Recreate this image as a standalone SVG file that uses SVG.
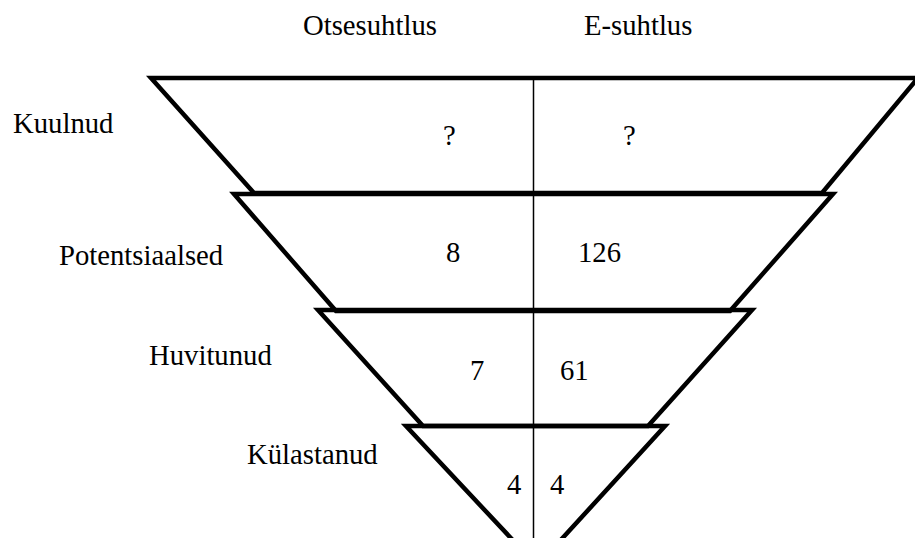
<svg xmlns="http://www.w3.org/2000/svg" width="915" height="538" viewBox="0 0 915 538">
<style>
text{font-family:"Liberation Serif","Times New Roman",serif;font-size:28.7px;fill:#000}
.tr{fill:none;stroke:#000;stroke-width:4.5;stroke-linejoin:miter;stroke-miterlimit:10}
.mid{stroke:#000;stroke-width:1.5}
</style>
<rect width="915" height="538" fill="#fff"/>
<g id="kuulnud">
<polygon class="tr" points="151,78 918,78 822,193 254,193"/>
<text x="13" y="133">Kuulnud</text>
<text x="443" y="145">?</text>
<text x="623" y="145">?</text>
</g>
<g id="potentsiaalsed">
<polygon class="tr" points="234,194 833,194 730,311 336,311"/>
<text x="59" y="265">Potentsiaalsed</text>
<text x="446" y="262">8</text>
<text x="578" y="262">126</text>
</g>
<g id="huvitunud">
<polygon class="tr" points="318,310 752,310 648,426 423,426"/>
<text x="149" y="365">Huvitunud</text>
<text x="470" y="380">7</text>
<text x="560" y="380">61</text>
</g>
<g id="kulastanud">
<polygon class="tr" points="406,426 665,426 537,566"/>
<text x="247" y="464">Külastanud</text>
<text x="507" y="494">4</text>
<text x="550" y="494">4</text>
</g>
<g id="headers">
<text x="303" y="35">Otsesuhtlus</text>
<text x="584" y="35">E-suhtlus</text>
</g>
<g id="connectors">
<line class="mid" x1="533.5" y1="78" x2="533.5" y2="538"/>
</g>
</svg>
